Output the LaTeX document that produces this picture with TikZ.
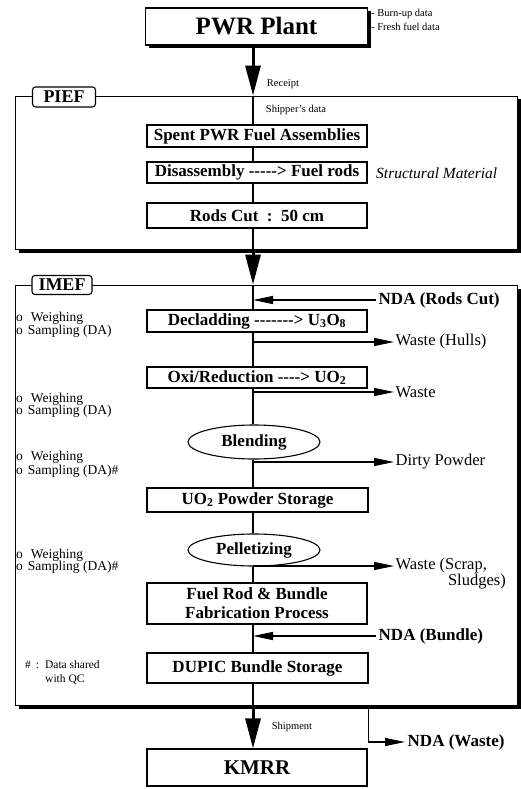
\documentclass[tikz,border=0pt]{standalone}
\usepackage{fontspec}
\setmainfont{Liberation Serif}
\usetikzlibrary{arrows.meta,shapes.geometric,shadows}
\newcommand{\fsz}[1]{\fontsize{#1}{#1}\selectfont}
\begin{document}
\begin{tikzpicture}[x=1pt,y=-1pt,
  box/.style={draw, line width=1.1pt, fill=white, minimum width=220pt, inner sep=0pt, font=\fsz{17}\bfseries},
  oval/.style={draw, ellipse, line width=1.1pt, fill=white, minimum width=132pt, inner sep=0pt, font=\fsz{17}\bfseries},
  bigbox/.style={draw, line width=1.2pt, fill=white, minimum width=222pt, minimum height=37pt, inner sep=0pt,
     drop shadow={shadow xshift=3pt, shadow yshift=-3pt, fill=black, opacity=1}},
  frame/.style={draw, line width=0.9pt, fill=white, inner sep=0pt, minimum width=502pt,
     drop shadow={shadow xshift=3.5pt, shadow yshift=-3.5pt, fill=black, opacity=1}},
  lab/.style={draw, line width=1.1pt, fill=white, rounded corners=3pt, minimum width=63pt, minimum height=20pt,
     inner sep=0pt, font=\fsz{18}\bfseries},
  note/.style={anchor=west, inner sep=0pt, font=\fsz{13.5}},
  tiny/.style={inner sep=0pt, font=\fsz{10.5}},
  side/.style={anchor=west, inner sep=1.5pt, font=\fsz{16.5}},
  sideb/.style={anchor=west, inner sep=2.5pt, font=\fsz{17}\bfseries},
  flow/.style={line width=1.1pt},
  bigarrow/.style={line width=3pt, -{Triangle[length=30pt,width=15pt]}},
  sidearrow/.style={line width=1.3pt, -{Triangle[length=20pt,width=8pt]}}
]
\useasboundingbox (0,0) rectangle (521,789);
\coordinate (ax) at (253,0);

% PWR plant
\node[bigbox, font=\fsz{25}\bfseries] (pwr) at (256.5,26.5) {PWR Plant};
\node[tiny, anchor=west] (burn) at (371,14) {- Burn-up data};
\node[tiny, anchor=west] (fresh) at (371,27) {- Fresh fuel data};
\node[tiny] (receipt) at (283,84) {Receipt};

% PIEF frame
\node[frame, minimum height=153pt] (pief) at (266,172.5) {};
\node[lab] (pieflab) at (64,97) {PIEF};
\node[tiny] (shipper) at (296,110) {Shipper's data};
\node[box, minimum height=22pt] (spent) at (257,136) {Spent PWR Fuel Assemblies};
\node[box, minimum height=21pt] (dis) at (257,172.5) {Disassembly -{}-{}-{}-{}-> Fuel rods};
\node[anchor=west, inner sep=0pt, font=\fsz{15.5}\itshape] (struct) at (376,173) {Structural Material};
\node[box, minimum height=25pt] (rods) at (257,215.5) {Rods Cut~~:~~50 cm};

\draw[bigarrow] (pwr.south -| ax) -- (pief.north -| ax);
\draw[flow] (pief.north -| ax) -- (spent.north -| ax);
\draw[flow] (spent.south -| ax) -- (dis.north -| ax);
\draw[flow] (dis.south -| ax) -- (rods.north -| ax);
\draw[flow] (rods.south -| ax) -- (pief.south -| ax);

% IMEF frame
\node[frame, minimum height=420pt] (imef) at (266,495) {};
\node[lab, minimum width=60pt, minimum height=19pt] (imeflab) at (62,285) {IMEF};
\draw[bigarrow] (pief.south -| ax) -- (imef.north -| ax);

\node[box, minimum height=22pt] (decl) at (257,321) {Decladding -{}-{}-{}-{}-{}-{}-> U\textsubscript{3}O\textsubscript{8}};
\node[box, minimum height=21pt] (oxi) at (257,377.5) {Oxi/Reduction -{}-{}-{}-> UO\textsubscript{2}};
\node[oval, minimum height=34pt] (blend) at (254,442) {Blending};
\node[box, minimum height=24pt, minimum width=221pt] (uo2) at (257.5,500) {UO\textsubscript{2} Powder Storage};
\node[oval, minimum height=32pt] (pell) at (254,550) {Pelletizing};
\node[box, minimum height=41pt, align=center] (fuel) at (257,603.5) {Fuel Rod \& Bundle\\[2pt]Fabrication Process};
\node[box, minimum height=30pt, minimum width=221pt] (dupic) at (257.5,668) {DUPIC Bundle Storage};

\draw[flow] (imef.north -| ax) -- (decl.north -| ax);
\draw[flow] (decl.south -| ax) -- (oxi.north -| ax);
\draw[flow] (oxi.south -| ax) -- (blend.north -| ax);
\draw[flow] (blend.south -| ax) -- (uo2.north -| ax);
\draw[flow] (uo2.south -| ax) -- (pell.north -| ax);
\draw[flow] (pell.south -| ax) -- (fuel.north -| ax);
\draw[flow] (fuel.south -| ax) -- (dupic.north -| ax);
\draw[flow] (dupic.south -| ax) -- (imef.south -| ax);

% side labels
\node[sideb] (ndarods) at (376,300) {NDA (Rods Cut)};
\draw[sidearrow] (ndarods.west) -- (ndarods.west -| ax);
\node[side] (hulls) at (394,342) {Waste (Hulls)};
\draw[sidearrow] (hulls.west -| ax) -- (hulls.west);
\node[side] (waste1) at (394,392) {Waste};
\draw[sidearrow] (waste1.west -| ax) -- (waste1.west);
\node[side] (dirty) at (394,462) {Dirty Powder};
\draw[sidearrow] (dirty.west -| ax) -- (dirty.west);
\node[side] (scrap) at (394,566) {Waste (Scrap,};
\node[anchor=east, inner sep=0pt, font=\fsz{16.5}] (sludges) at (506,582) {Sludges)};
\draw[sidearrow] (scrap.west -| ax) -- (scrap.west);
\node[sideb] (ndabundle) at (376,636) {NDA (Bundle)};
\draw[sidearrow] (ndabundle.west) -- (ndabundle.west -| ax);

% left notes
\node[note] (w1) at (16,318) {o\hspace{8pt}Weighing};
\node[note] (s1) at (16,331) {o\hspace{5pt}Sampling (DA)};
\node[note] (w2) at (16,399) {o\hspace{8pt}Weighing};
\node[note] (s2) at (16,411) {o\hspace{5pt}Sampling (DA)};
\node[note] (w3) at (16,457) {o\hspace{8pt}Weighing};
\node[note] (s3) at (16,471) {o\hspace{5pt}Sampling (DA)\#};
\node[note] (w4) at (16,555) {o\hspace{8pt}Weighing};
\node[note] (s4) at (16,567) {o\hspace{5pt}Sampling (DA)\#};
\node[note, font=\fsz{11.5}] (sh1) at (25,665) {\#\hspace{5pt}:\hspace{6pt}Data shared};
\node[note, font=\fsz{11.5}] (sh2) at (45,679) {with QC};

% KMRR
\node[draw, line width=1.2pt, minimum width=220pt, minimum height=37pt, inner sep=0pt, font=\fsz{21}\bfseries] (kmrr) at (257,767.5) {KMRR};
\draw[bigarrow] (imef.south -| ax) -- (kmrr.north -| ax);
\node[tiny] (ship) at (292,727) {Shipment};
\node[sideb] (ndawaste) at (405,742) {NDA (Waste)};
\draw[sidearrow] (dupic.east |- imef.south) -- (dupic.east |- ndawaste.west) -- (ndawaste.west);
\end{tikzpicture}
\end{document}
